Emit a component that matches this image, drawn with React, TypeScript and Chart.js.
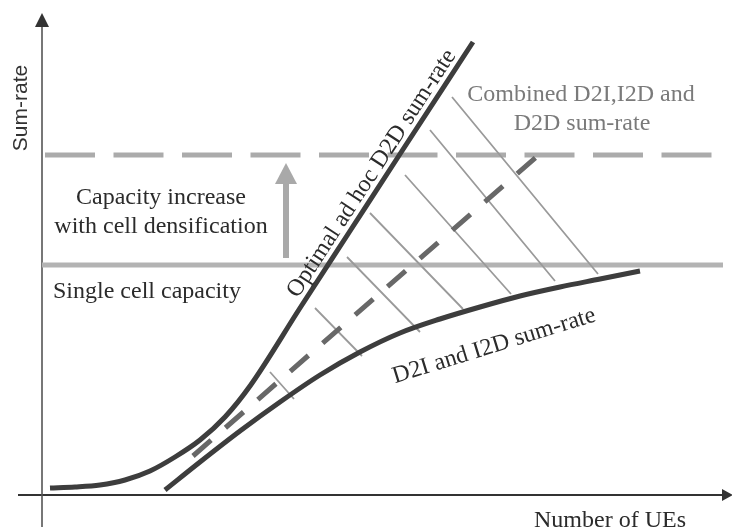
import React, { useEffect, useRef } from "react";
import { Chart, registerables } from "chart.js";

Chart.register(...registerables);

// Schematic values in arbitrary chart units (x: number of UEs, y: sum-rate)
const optimalX = [8, 33, 58, 83, 108, 133, 158, 183, 208, 258, 308, 358, 431];
const optimalY = [7, 8, 10, 15, 24, 38, 55, 78, 109, 187, 264, 341, 453];

const d2iX = [123, 158, 198, 238, 278, 318, 358, 398, 438, 478, 518, 558, 598];
const d2iY = [5, 33, 64, 93, 120, 143, 162, 176, 188, 199, 208, 216, 224];

const combinedX = [151, 500];
const combinedY = [39, 343];

const hatchStartX = [410, 388, 363, 328, 305, 273, 228];
const hatchStartY = [398, 365, 320, 282, 238, 187, 123];
const hatchEndX = [556, 513, 469, 421, 378, 320, 252];
const hatchEndY = [221, 214, 201, 186, 163, 139, 96];

const singleCellCapacity = 230;
const singleCellRangeX = [0, 681];
const densifiedCapacity = 340;
const densifiedRangeX = [3, 671];

const increaseArrowX = 244;
const increaseArrowY = [237, 332];

const axisRangeX = [-24, 690];
const axisRangeY = [-32, 482];

const yAxisTitle = "Sum-rate";
const xAxisTitle = "Number of UEs";
const increaseLabel = ["Capacity increase", "with cell densification"];
const singleLabel = "Single cell capacity";
const combinedLabel = ["Combined D2I,I2D and", "D2D sum-rate"];
const optimalLabel = "Optimal ad hoc D2D sum-rate";
const d2iLabel = "D2I and I2D sum-rate";

const pts = (xs: number[], ys: number[]) => xs.map((x, i) => ({ x, y: ys[i] }));

const hatchData = (() => {
  const out: any[] = [];
  hatchStartX.forEach((_, i) => {
    out.push({ x: hatchStartX[i], y: hatchStartY[i] });
    out.push({ x: hatchEndX[i], y: hatchEndY[i] });
    out.push({ x: null, y: null });
  });
  return out;
})();

const SERIF = "'Liberation Serif', 'Times New Roman', serif";
const SANS = "'Liberation Sans', Arial, sans-serif";
const TEXT = "#2b2b2b";

const annotations = {
  id: "annotations",
  afterDatasetsDraw(chart: any) {
    const ctx = chart.ctx;
    const sx = chart.scales.x;
    const sy = chart.scales.y;
    const X = (v: number) => sx.getPixelForValue(v);
    const Y = (v: number) => sy.getPixelForValue(v);

    ctx.save();
    // axis arrowheads
    ctx.fillStyle = "#333";
    ctx.beginPath();
    ctx.moveTo(X(0), Y(axisRangeY[1]));
    ctx.lineTo(X(0) - 7, Y(axisRangeY[1]) + 14);
    ctx.lineTo(X(0) + 7, Y(axisRangeY[1]) + 14);
    ctx.closePath();
    ctx.fill();
    ctx.beginPath();
    ctx.moveTo(X(axisRangeX[1]) + 1, Y(0));
    ctx.lineTo(X(axisRangeX[1]) - 10, Y(0) - 6);
    ctx.lineTo(X(axisRangeX[1]) - 10, Y(0) + 6);
    ctx.closePath();
    ctx.fill();

    // capacity increase arrowhead
    ctx.fillStyle = "#a9a9a9";
    ctx.beginPath();
    ctx.moveTo(X(increaseArrowX), Y(increaseArrowY[1]));
    ctx.lineTo(X(increaseArrowX) - 11, Y(increaseArrowY[1]) + 21);
    ctx.lineTo(X(increaseArrowX) + 11, Y(increaseArrowY[1]) + 21);
    ctx.closePath();
    ctx.fill();

    // texts
    ctx.fillStyle = TEXT;
    ctx.textBaseline = "alphabetic";
    ctx.font = `24px ${SERIF}`;
    ctx.textAlign = "center";
    ctx.fillText(increaseLabel[0], X(119), Y(291));
    ctx.fillText(increaseLabel[1], X(119), Y(262));
    ctx.fillText(xAxisTitle, X(568), Y(-32));
    ctx.textAlign = "left";
    ctx.fillText(singleLabel, X(11), Y(197));

    ctx.fillStyle = "#7a7a7a";
    ctx.textAlign = "center";
    ctx.fillText(combinedLabel[0], X(539), Y(394));
    ctx.fillText(combinedLabel[1], X(540), Y(365));

    ctx.fillStyle = TEXT;
    // rotated along optimal line
    const a1 = Math.atan2(
      Y(optimalY[12]) - Y(optimalY[10]),
      X(optimalX[12]) - X(optimalX[10])
    );
    ctx.save();
    ctx.translate(X(335), Y(318));
    ctx.rotate(a1);
    ctx.textAlign = "center";
    ctx.fillText(optimalLabel, 0, 0);
    ctx.restore();

    // rotated along D2I curve
    ctx.save();
    ctx.translate(X(454), Y(143));
    ctx.rotate((-17.2 * Math.PI) / 180);
    ctx.textAlign = "center";
    ctx.fillText(d2iLabel, 0, 0);
    ctx.restore();

    // y axis title
    ctx.save();
    ctx.font = `21px ${SANS}`;
    ctx.fillStyle = "#333";
    ctx.translate(X(-15), Y(387));
    ctx.rotate(-Math.PI / 2);
    ctx.textAlign = "center";
    ctx.fillText(yAxisTitle, 0, 0);
    ctx.restore();

    ctx.restore();
  },
};

export default function App() {
  const ref = useRef<HTMLCanvasElement>(null);
  useEffect(() => {
    if (!ref.current) return;
    const chart = new Chart(ref.current, {
      type: "scatter",
      data: {
        datasets: [
          {
            data: pts(optimalX, optimalY),
            showLine: true,
            borderColor: "#3d3d3d",
            borderWidth: 5,
            pointRadius: 0,
            cubicInterpolationMode: "monotone",
            order: 0,
          },
          {
            data: pts(d2iX, d2iY),
            showLine: true,
            borderColor: "#3d3d3d",
            borderWidth: 5,
            pointRadius: 0,
            cubicInterpolationMode: "monotone",
            order: 1,
          },
          {
            data: pts(combinedX, combinedY),
            showLine: true,
            borderColor: "#686868",
            borderWidth: 5,
            borderDash: [24, 19],
            pointRadius: 0,
            order: 2,
          },
          {
            data: hatchData,
            showLine: true,
            spanGaps: false,
            borderColor: "#9a9a9a",
            borderWidth: 1.8,
            pointRadius: 0,
            order: 3,
          },
          {
            data: pts(densifiedRangeX, [densifiedCapacity, densifiedCapacity]),
            showLine: true,
            borderColor: "#ababab",
            borderWidth: 5,
            borderDash: [50, 18.5],
            pointRadius: 0,
            order: 4,
          },
          {
            data: pts(singleCellRangeX, [singleCellCapacity, singleCellCapacity]),
            showLine: true,
            borderColor: "#b3b3b3",
            borderWidth: 5,
            pointRadius: 0,
            order: 5,
          },
          {
            data: pts([increaseArrowX, increaseArrowX], [increaseArrowY[0], increaseArrowY[1] - 20]),
            showLine: true,
            borderColor: "#a9a9a9",
            borderWidth: 6,
            pointRadius: 0,
            order: 6,
          },
          {
            data: pts([0, 0], [axisRangeY[0], axisRangeY[1] - 13]),
            showLine: true,
            borderColor: "#555",
            borderWidth: 1.6,
            pointRadius: 0,
            order: 7,
          },
          {
            data: pts([axisRangeX[0], axisRangeX[1] - 9], [0, 0]),
            showLine: true,
            borderColor: "#333",
            borderWidth: 1.8,
            pointRadius: 0,
            order: 8,
          },
        ],
      },
      options: {
        responsive: false,
        animation: false,
        devicePixelRatio: 1,
        events: [],
        layout: { padding: 0 },
        plugins: { legend: { display: false }, tooltip: { enabled: false } },
        scales: {
          x: { type: "linear", min: -42, max: 690, display: false },
          y: { type: "linear", min: -36, max: 495, display: false },
        },
      },
      plugins: [annotations],
    } as any);
    return () => chart.destroy();
  }, []);

  return (
    <div style={{ position: "fixed", left: 0, top: 0, width: 732, height: 531, background: "#fff" }}>
      <canvas ref={ref} width={732} height={531} style={{ width: 732, height: 531, display: "block" }} />
    </div>
  );
}
